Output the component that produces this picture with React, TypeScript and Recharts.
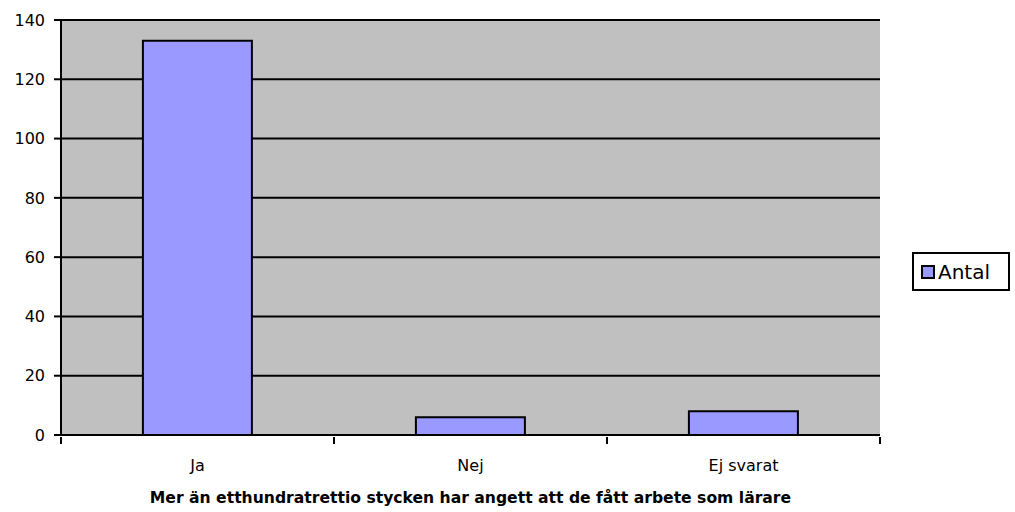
import React from 'react';
import { Bar, BarChart, CartesianGrid, XAxis, YAxis } from 'recharts';

const categories = ['Ja', 'Nej', 'Ej svarat'];
const antal = [133, 6, 8];
const yTicks = [0, 20, 40, 60, 80, 100, 120, 140];
const seriesName = 'Antal';
const title = 'Mer än etthundratrettio stycken har angett att de fått arbete som lärare';

const data = categories.map((name, i) => ({ name, antal: antal[i] }));

const W = 1015;
const H = 512;
const margin = { top: 20, right: 135, left: 0, bottom: 0 };
const yAxisWidth = 61;
const xAxisHeight = 77;
const band = (W - margin.left - margin.right - yAxisWidth) / categories.length;
const font = '"DejaVu Sans", Verdana, sans-serif';

function XTick(props: any) {
  const { x, y, payload, index } = props;
  const left = x - band / 2;
  return (
    <g>
      <line x1={left} x2={left} y1={y} y2={y + 7} stroke="#000" strokeWidth={2} />
      {index === categories.length - 1 && (
        <line x1={x + band / 2} x2={x + band / 2} y1={y} y2={y + 7} stroke="#000" strokeWidth={2} />
      )}
      <text x={x} y={y + 34} textAnchor="middle" fill="#000" fontSize={16} fontFamily={font}>
        {payload.value}
      </text>
    </g>
  );
}

export default function App() {
  return (
    <div style={{ position: 'absolute', left: 0, top: 0, width: W, height: H, background: '#fff', fontFamily: font }}>
      <BarChart width={W} height={H} data={data} margin={margin} barCategoryGap="30%">
        <CartesianGrid vertical={false} stroke="#000" strokeWidth={2} fill="#c0c0c0" fillOpacity={1} />
        <XAxis
          xAxisId="top"
          orientation="top"
          dataKey="name"
          height={0}
          tick={false}
          tickLine={false}
          axisLine={{ stroke: '#808080', strokeWidth: 2 }}
        />
        <YAxis
          yAxisId="right"
          orientation="right"
          width={0}
          domain={[0, 140]}
          ticks={yTicks}
          tick={false}
          tickLine={false}
          axisLine={{ stroke: '#808080', strokeWidth: 2 }}
        />
        <XAxis
          dataKey="name"
          height={xAxisHeight}
          tick={<XTick />}
          tickLine={false}
          tickSize={0}
          interval={0}
          axisLine={{ stroke: '#000', strokeWidth: 2 }}
          label={{
            value: title,
            position: 'insideBottom',
            offset: 9,
            fill: '#000',
            fontSize: 15.6,
            fontWeight: 'bold',
            fontFamily: font,
          }}
        />
        <YAxis
          width={yAxisWidth}
          domain={[0, 140]}
          ticks={yTicks}
          interval={0}
          tickSize={7}
          tickMargin={9}
          tickLine={{ stroke: '#000', strokeWidth: 2 }}
          axisLine={{ stroke: '#000', strokeWidth: 2 }}
          tick={{ fill: '#000', fontSize: 16, fontFamily: font }}
        />
        <Bar
          dataKey="antal"
          name={seriesName}
          fill="#9999ff"
          stroke="#000"
          strokeWidth={2}
          isAnimationActive={false}
        />
      </BarChart>
      <div
        style={{
          position: 'absolute',
          left: 912,
          top: 252,
          width: 98,
          height: 39,
          boxSizing: 'border-box',
          border: '2px solid #000',
          display: 'flex',
          alignItems: 'center',
          paddingLeft: 7,
          fontSize: 20,
          color: '#000',
        }}
      >
        <span
          style={{
            display: 'inline-block',
            width: 14,
            height: 14,
            boxSizing: 'border-box',
            background: '#9999ff',
            border: '2px solid #000',
            marginRight: 3,
          }}
        />
        {seriesName}
      </div>
    </div>
  );
}
